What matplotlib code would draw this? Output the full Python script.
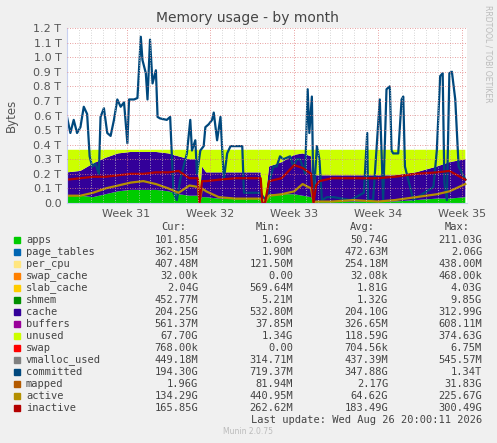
import matplotlib
matplotlib.use('Agg')
import matplotlib.pyplot as plt
from matplotlib.ticker import MultipleLocator, FuncFormatter, NullLocator

# weeks on x, terabytes on y
t = [30.29, 30.45, 30.6, 30.75, 30.9, 31.05, 31.2, 31.35, 31.5, 31.62, 31.75, 31.85, 31.87, 31.9,
     31.95, 32.1, 32.3, 32.6, 32.62, 32.65, 32.7, 32.85, 33.0, 33.1, 33.2, 33.23, 33.26, 33.3,
     33.45, 33.7, 34.0, 34.2, 34.45, 34.7, 34.85, 35.04]
apps = [0.05, 0.05, 0.04, 0.06, 0.08, 0.09, 0.09, 0.09, 0.08, 0.06, 0.05, 0.05, 0, 0.04,
        0.04, 0.03, 0.03, 0.03, 0, 0, 0.06, 0.06, 0.06, 0.05, 0.04, 0, 0.01, 0.01,
        0.01, 0.01, 0.01, 0.01, 0.02, 0.03, 0.03, 0.04]
cache = [0.16, 0.17, 0.23, 0.25, 0.26, 0.26, 0.26, 0.26, 0.26, 0.26, 0.25, 0.25, 0, 0.21,
         0.17, 0.18, 0.18, 0.18, 0, 0, 0.19, 0.22, 0.27, 0.29, 0.28, 0, 0.18, 0.18,
         0.18, 0.18, 0.18, 0.18, 0.19, 0.22, 0.25, 0.26]
mem_total = 0.365
inactive = [0.16, 0.17, 0.18, 0.18, 0.19, 0.20, 0.20, 0.21, 0.21, 0.22, 0.17, 0.17, 0, 0.15,
            0.15, 0.16, 0.17, 0.17, 0, 0, 0.15, 0.17, 0.26, 0.24, 0.20, 0, 0.12, 0.15,
            0.17, 0.17, 0.17, 0.18, 0.20, 0.21, 0.22, 0.16]
active = [0.05, 0.05, 0.07, 0.10, 0.12, 0.14, 0.15, 0.13, 0.10, 0.07, 0.12, 0.11, 0, 0.10,
          0.08, 0.04, 0.03, 0.03, 0, 0, 0.05, 0.06, 0.08, 0.13, 0.10, 0, 0.01, 0.01,
          0.01, 0.02, 0.01, 0.02, 0.04, 0.06, 0.08, 0.13]

t_comm = [30.29, 30.33, 30.37, 30.41, 30.45, 30.49, 30.53, 30.56, 30.59, 30.63, 30.67, 30.69, 30.73,
          30.77, 30.81, 30.85, 30.89, 30.93, 30.97, 31.01, 31.03, 31.09, 31.13, 31.17, 31.19, 31.23,
          31.25, 31.28, 31.31, 31.35, 31.37, 31.40, 31.48, 31.52, 31.56, 31.60, 31.64, 31.72, 31.76,
          31.78, 31.82, 31.84, 31.88, 31.92, 31.94, 31.98, 32.02, 32.04, 32.08, 32.12, 32.16, 32.20,
          32.24, 32.28, 32.38, 32.40, 32.60, 32.63, 32.67, 32.71, 32.75, 32.79, 32.83, 32.87, 32.95,
          32.99, 33.03, 33.07, 33.13, 33.16, 33.18, 33.21, 33.23, 33.27, 33.30, 33.33, 33.39, 33.47,
          33.67, 33.83, 33.87, 33.88, 33.94, 33.98, 34.02, 34.06, 34.10, 34.14, 34.16, 34.18, 34.24,
          34.28, 34.30, 34.32, 34.42, 34.66, 34.70, 34.74, 34.77, 34.79, 34.82, 34.85, 34.88, 34.92,
          34.96, 35.04]
committed = [0.59, 0.48, 0.57, 0.48, 0.52, 0.66, 0.61, 0.32, 0.25, 0.27, 0.20, 0.59, 0.65,
             0.48, 0.46, 0.57, 0.71, 0.66, 0.69, 0.41, 0.71, 0.71, 0.72, 1.14, 0.98, 0.89,
             0.71, 1.12, 0.82, 0.91, 0.59, 0.58, 0.57, 0.59, 0.07, 0.02, 0.16, 0.34, 0.57,
             0.36, 0.43, 0.20, 0.36, 0.39, 0.52, 0.54, 0.57, 0.62, 0.43, 0.59, 0.16, 0.34,
             0.39, 0.39, 0.39, 0.07, 0.07, 0.04, 0.02, 0.16, 0.25, 0.25, 0.32, 0.30, 0.32,
             0.25, 0.30, 0.30, 0.20, 0.78, 0.48, 0.73, 0.02, 0.39, 0.30, 0.02, 0.04, 0.04,
             0.02, 0.07, 0.48, 0.02, 0.02, 0.36, 0.71, 0.02, 0.78, 0.80, 0.36, 0.34, 0.34,
             0.71, 0.73, 0.25, 0.02, 0.11, 0.36, 0.87, 0.89, 0.14, 0.02, 0.89, 0.90, 0.71,
             0.25, 0.16]

legend = [
    ('apps', '#00CC00', '101.85G', '1.69G', '50.74G', '211.03G'),
    ('page_tables', '#0066B3', '362.15M', '1.90M', '472.63M', '2.06G'),
    ('per_cpu', '#FFE680', '407.48M', '121.50M', '254.18M', '438.00M'),
    ('swap_cache', '#FF8000', '32.00k', '0.00', '32.08k', '468.00k'),
    ('slab_cache', '#FFCC00', '2.04G', '569.64M', '1.81G', '4.03G'),
    ('shmem', '#008F00', '452.77M', '5.21M', '1.32G', '9.85G'),
    ('cache', '#330099', '204.25G', '532.80M', '204.10G', '312.99G'),
    ('buffers', '#990099', '561.37M', '37.85M', '326.65M', '608.11M'),
    ('unused', '#CCFF00', '67.70G', '1.34G', '118.59G', '374.63G'),
    ('swap', '#FF0000', '768.00k', '0.00', '704.56k', '6.75M'),
    ('vmalloc_used', '#808080', '449.18M', '314.71M', '437.39M', '545.57M'),
    ('committed', '#00487D', '194.30G', '719.37M', '347.88G', '1.34T'),
    ('mapped', '#B35A00', '1.96G', '81.94M', '2.17G', '31.83G'),
    ('active', '#B38F00', '134.29G', '440.95M', '64.62G', '225.67G'),
    ('inactive', '#B30000', '165.85G', '262.62M', '183.49G', '300.49G'),
]

W, H = 497, 443
fig = plt.figure(figsize=(W / 100, H / 100), dpi=100, facecolor='#F0F0F0')
ax = fig.add_axes([67 / W, 1 - 203 / H, 400 / W, 175 / H])
ax.set_facecolor('white')

unused = [mem_total - a - c for a, c in zip(apps, cache)]
ax.stackplot(t, apps, cache, unused, colors=['#00CC00', '#330099', '#CCFF00'], linewidth=0)
ax.plot(t_comm, committed, color='#00487D', lw=1.6)
ax.plot(t, active, color='#B38F00', lw=1.6)
ax.plot(t, inactive, color='#B30000', lw=1.6)

ax.set_xlim(30.29, 35.06)
ax.set_ylim(0, 1.2)
ax.yaxis.set_major_locator(MultipleLocator(0.1))
ax.yaxis.set_minor_locator(NullLocator())
ax.yaxis.set_major_formatter(FuncFormatter(lambda v, p: '0.0' if v < 0.01 else '%.1f T' % v))
ax.xaxis.set_major_locator(MultipleLocator(1))
ax.xaxis.set_minor_locator(MultipleLocator(1 / 7))
ax.xaxis.set_major_formatter(FuncFormatter(lambda v, p: 'Week %d' % round(v)))
ax.grid(which='major', color='#E08080', ls=(0, (1, 2)), lw=0.6)
ax.grid(which='minor', color='#C8C8C8', ls=(0, (1, 2)), lw=0.6)
ax.set_axisbelow(False)
ax.tick_params(which='both', length=0, labelsize=8, colors='#555555', pad=4)
for s in ['top', 'right']:
    ax.spines[s].set_visible(False)
for s in ['left', 'bottom']:
    ax.spines[s].set_color('#C8D0F0')

fig.text(247 / W, 1 - 18 / H, 'Memory usage - by month', ha='center', va='center', fontsize=10, color='#444444')
fig.text(11 / W, 1 - 115 / H, 'Bytes', rotation=90, ha='center', va='center', fontsize=8.5, color='#555555')
fig.text(488 / W, 1 - 5 / H, 'RRDTOOL / TOBI OETIKER', rotation=270, ha='center', va='top', fontsize=5.5, color='#BBBBBB')

mono = 'DejaVu Sans Mono'
for x, h in zip([186, 281, 375, 470], ['Cur:', 'Min:', 'Avg:', 'Max:']):
    fig.text(x / W, 1 - 227 / H, h, ha='right', va='center', family=mono, fontsize=7.5, color='#444444')
for i, (name, col, cur, mn, avg, mx) in enumerate(legend):
    y = 1 - (240 + 12 * i) / H
    fig.patches.append(plt.Rectangle((14 / W, y - 3 / H), 6 / W, 6 / H, color=col, transform=fig.transFigure))
    fig.text(26 / W, y, name, ha='left', va='center', family=mono, fontsize=7.5, color='#444444')
    for x, v in zip([198, 293, 388, 482], [cur, mn, avg, mx]):
        fig.text(x / W, y, v, ha='right', va='center', family=mono, fontsize=7.5, color='#444444')
fig.text(482 / W, 1 - 420 / H, 'Last update: Wed Aug 26 20:00:11 2026', ha='right', va='center',
         family=mono, fontsize=7.5, color='#444444')
fig.text(248 / W, 1 - 432 / H, 'Munin 2.0.75', ha='center', va='center', fontsize=5.5, color='#BBBBBB')

fig.savefig('out.png', dpi=100, facecolor=fig.get_facecolor())
